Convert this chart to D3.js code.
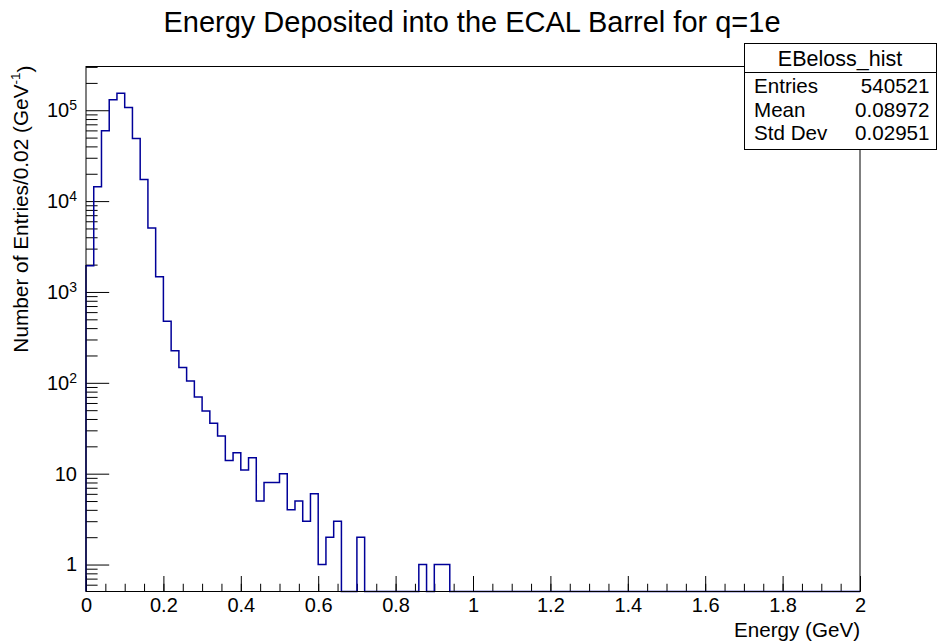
<!DOCTYPE html>
<html>
<head>
<meta charset="utf-8">
<script src="https://cdn.jsdelivr.net/npm/d3@7"></script>
<style>
  html, body { margin: 0; padding: 0; background: #fff; }
  svg { display: block; font-family: "Liberation Sans", Arial, Helvetica, sans-serif; }
</style>
</head>
<body>
<svg id="chart" width="938" height="644"></svg>
<script>
// Histogram EBeloss_hist: 100 bins of 0.02 GeV from 0 to 2 GeV
const binWidth = 0.02;
const xRange = [0, 2];
const counts = [
  1940, 14370, 59330, 130100, 154200, 107100, 48800, 17290, 5050, 1473,
  476, 226, 147, 105, 70, 49, 36, 26, 14, 17,
  11, 15, 5, 8, 8, 10, 4, 5, 3, 6,
  1, 2, 3, 0, 0, 2, 0, 0, 0, 0,
  0, 0, 0, 1, 0, 1, 1, 0, 0, 0,
  0, 0, 0, 0, 0, 0, 0, 0, 0, 0,
  0, 0, 0, 0, 0, 0, 0, 0, 0, 0,
  0, 0, 0, 0, 0, 0, 0, 0, 0, 0,
  0, 0, 0, 0, 0, 0, 0, 0, 0, 0,
  0, 0, 0, 0, 0, 0, 0, 0, 0, 0
];
const yRange = [0.505, 3.03e5];

const xMajorTicks = [0, 0.2, 0.4, 0.6, 0.8, 1, 1.2, 1.4, 1.6, 1.8, 2];
const xTickLabels = ["0", "0.2", "0.4", "0.6", "0.8", "1", "1.2", "1.4", "1.6", "1.8", "2"];
const yMajorTicks = [1, 10, 100, 1000, 10000, 100000];
const yTickBase = ["1", "10", "10", "10", "10", "10"];
const yTickExp = ["", "", "2", "3", "4", "5"];

const titleText = "Energy Deposited into the ECAL Barrel for q=1e";
const xTitle = "Energy (GeV)";
const yTitleMain = "Number of Entries/0.02 (GeV";
const yTitleSup = "-1";
const yTitleEnd = ")";

const statsName = "EBeloss_hist";
const statsLabels = ["Entries", "Mean", "Std Dev"];
const statsValues = ["540521", "0.08972", "0.02951"];

// ---- layout ----
const frame = { left: 86, right: 860, top: 66.5, bottom: 591.5 };
const lineColor = "#000099";
const fontSize = 20;
const textSize = 20.6;

const svg = d3.select("#chart");

const x = d3.scaleLinear().domain(xRange).range([frame.left, frame.right]);
const y = d3.scaleLog().domain(yRange).range([frame.bottom, frame.top]);

// minor tick positions: every 0.05 along x, 2..9 per decade along y
const xMinorTicks = d3.range(0, 41).map(i => +(i * 0.05).toFixed(2));
const yMinorTicks = [];
[-1, 0, 1, 2, 3, 4, 5].forEach(e => {
  for (let m = 2; m <= 9; m++) {
    const v = m * Math.pow(10, e);
    if (v >= yRange[0] && v <= yRange[1]) yMinorTicks.push(v);
  }
});

// x axis: minor ticks then major ticks with labels
const xMinorAxis = d3.axisBottom(x).tickValues(xMinorTicks).tickSize(-7.75).tickFormat("");
const xAxis = d3.axisBottom(x).tickValues(xMajorTicks).tickSize(-15.5).tickPadding(6.3)
  .tickFormat((d, i) => xTickLabels[i]);

const gxMinor = svg.append("g").attr("transform", `translate(0,${frame.bottom})`).call(xMinorAxis);
const gx = svg.append("g").attr("transform", `translate(0,${frame.bottom})`).call(xAxis);

// y axis: minor ticks then decade ticks
const yMinorAxis = d3.axisLeft(y).tickValues(yMinorTicks).tickSize(-11.6).tickFormat("");
const yAxis = d3.axisLeft(y).tickValues(yMajorTicks).tickSize(-23.2).tickPadding(9)
  .tickFormat((d, i) => yTickBase[i]);

const gyMinor = svg.append("g").attr("transform", `translate(${frame.left},0)`).call(yMinorAxis);
const gy = svg.append("g").attr("transform", `translate(${frame.left},0)`).call(yAxis);

[gxMinor, gx, gyMinor, gy].forEach(g => {
  g.select(".domain").remove();
  g.selectAll(".tick line").attr("stroke", "#000").attr("stroke-width", 1);
  g.selectAll(".tick text").attr("fill", "#000").attr("font-size", fontSize)
    .attr("font-family", "\"Liberation Sans\", Arial, Helvetica, sans-serif");
});

// exponents on the decade labels
gy.selectAll(".tick text").each(function(d, i) {
  if (yTickExp[i]) {
    d3.select(this).append("tspan")
      .attr("dy", "-0.5em")
      .attr("font-size", 14)
      .text(yTickExp[i]);
  }
});

// histogram outline (step shape)
const pts = [];
const floorVal = yRange[0];
pts.push([xRange[0], floorVal]);
counts.forEach((c, i) => {
  const v = Math.max(c, floorVal);
  const x0 = xRange[0] + i * binWidth;
  pts.push([x0, v]);
  pts.push([x0 + binWidth, v]);
});
pts.push([xRange[0] + counts.length * binWidth, floorVal]);

const line = d3.line().x(d => x(d[0])).y(d => y(Math.min(Math.max(d[1], yRange[0]), yRange[1])));

svg.append("path")
  .attr("d", line(pts))
  .attr("fill", "none")
  .attr("stroke", lineColor)
  .attr("stroke-width", 1.5)
  .attr("stroke-linejoin", "miter");

// frame
svg.append("rect")
  .attr("x", frame.left).attr("y", frame.top)
  .attr("width", frame.right - frame.left).attr("height", frame.bottom - frame.top)
  .attr("fill", "none").attr("stroke", "#000").attr("stroke-width", 1);

// title
svg.append("text")
  .attr("x", 472).attr("y", 32)
  .attr("text-anchor", "middle")
  .attr("font-size", 29)
  .text(titleText);

// x-axis title
svg.append("text")
  .attr("x", frame.right).attr("y", 637)
  .attr("text-anchor", "end")
  .attr("font-size", textSize)
  .text(xTitle);

// y-axis title
const yt = svg.append("text")
  .attr("transform", `translate(28,${frame.top - 1}) rotate(-90)`)
  .attr("text-anchor", "end")
  .attr("font-size", 20.8);
yt.append("tspan").text(yTitleMain);
yt.append("tspan").attr("font-size", 13.5).attr("dy", "-0.6em").text(yTitleSup);
yt.append("tspan").attr("dy", "0.6em").text(yTitleEnd);

// statistics box
const box = { x: 744.5, y: 43.5, w: 192, h: 106, sep: 72.5 };
const gs = svg.append("g");
gs.append("rect")
  .attr("x", box.x).attr("y", box.y).attr("width", box.w).attr("height", box.h)
  .attr("fill", "#fff").attr("stroke", "#000").attr("stroke-width", 1);
gs.append("line")
  .attr("x1", box.x).attr("x2", box.x + box.w)
  .attr("y1", box.sep).attr("y2", box.sep)
  .attr("stroke", "#000").attr("stroke-width", 1);
gs.append("text")
  .attr("x", 840).attr("y", 65.5)
  .attr("text-anchor", "middle").attr("font-size", 21.5)
  .text(statsName);
const rowBaselines = [93.3, 116.5, 140];
statsLabels.forEach((lab, i) => {
  gs.append("text").attr("x", 754).attr("y", rowBaselines[i])
    .attr("font-size", textSize).text(lab);
  gs.append("text").attr("x", 929.5).attr("y", rowBaselines[i])
    .attr("text-anchor", "end").attr("font-size", textSize).text(statsValues[i]);
});
</script>
</body>
</html>
